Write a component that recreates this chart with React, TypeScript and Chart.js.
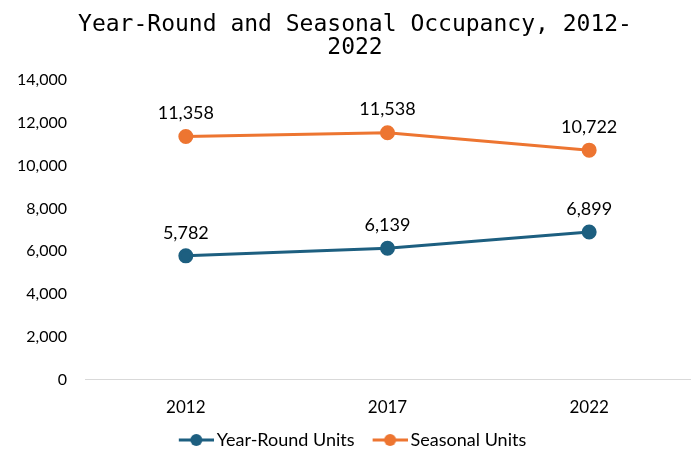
import React, { useEffect, useRef } from "react";
import { Chart, registerables } from "chart.js";

Chart.register(...registerables);

const categories = ["2012", "2017", "2022"];
const yearRoundUnits = [5782, 6139, 6899];
const seasonalUnits = [11358, 11538, 10722];
const titleLines = ["Year-Round and Seasonal Occupancy, 2012-", "2022"];
const yMin = 0;
const yMax = 14000;
const yStep = 2000;

const BLUE = "#1d5f80";
const ORANGE = "#ed7531";
const FONT = "Lato, 'Open Sans', sans-serif";

// legend marker: transparent lead-in, then a line with a dot
function makeIcon(color: string) {
  const c = document.createElement("canvas");
  c.width = 56;
  c.height = 14;
  const ctx = c.getContext("2d")!;
  ctx.strokeStyle = color;
  ctx.lineWidth = 3;
  ctx.beginPath();
  ctx.moveTo(21, 7);
  ctx.lineTo(56, 7);
  ctx.stroke();
  ctx.fillStyle = color;
  ctx.beginPath();
  ctx.arc(38.5, 7, 6, 0, Math.PI * 2);
  ctx.fill();
  return c;
}

const dataLabels = {
  id: "dataLabels",
  afterDatasetsDraw(chart: any) {
    const ctx = chart.ctx;
    ctx.save();
    ctx.font = `18px ${FONT}`;
    ctx.fillStyle = "#000";
    ctx.textAlign = "center";
    ctx.textBaseline = "middle";
    chart.data.datasets.forEach((ds: any, i: number) => {
      const meta = chart.getDatasetMeta(i);
      meta.data.forEach((pt: any, j: number) => {
        ctx.fillText(Number(ds.data[j]).toLocaleString("en-US"), pt.x, pt.y - 23);
      });
    });
    ctx.restore();
  },
};

const titleShift = {
  id: "titleShift",
  afterLayout(chart: any) {
    if (chart.titleBlock) chart.titleBlock.left += 20;
  },
};

export default function App() {
  const ref = useRef<HTMLCanvasElement>(null);
  useEffect(() => {
    document.body.style.margin = "0";
    const chart = new Chart(ref.current!, {
      type: "line",
      data: {
        labels: categories,
        datasets: [
          {
            label: "Year-Round Units",
            data: yearRoundUnits,
            borderColor: BLUE,
            backgroundColor: BLUE,
            borderWidth: 3,
            pointRadius: 6,
            pointStyle: "circle",
          },
          {
            label: "Seasonal Units",
            data: seasonalUnits,
            borderColor: ORANGE,
            backgroundColor: ORANGE,
            borderWidth: 3,
            pointRadius: 6,
            pointStyle: "circle",
          },
        ],
      },
      options: {
        animation: false,
        responsive: false,
        layout: { padding: { left: 0, right: 10, top: 0, bottom: -8 } },
        plugins: {
          title: {
            display: true,
            text: titleLines,
            color: "#000",
            font: { family: "'DejaVu Sans Mono', monospace", size: 23, weight: "normal", lineHeight: 1.0 },
            padding: { top: 14, bottom: 20 },
          },
          legend: {
            position: "bottom",
            labels: {
              usePointStyle: true,
              pointStyleWidth: 44,
              color: "#000",
              font: { family: FONT, size: 18 },
              padding: 3,
              generateLabels(chart: any) {
                return chart.data.datasets.map((ds: any, i: number) => ({
                  text: ds.label,
                  fillStyle: ds.borderColor,
                  strokeStyle: ds.borderColor,
                  lineWidth: 0,
                  pointStyle: makeIcon(ds.borderColor),
                  datasetIndex: i,
                  hidden: false,
                  fontColor: "#000",
                }));
              },
            },
          },
          tooltip: { enabled: false },
        },
        scales: {
          x: {
            offset: true,
            grid: { display: false },
            border: { display: true, color: "#d9d9d9", width: 1 },
            ticks: { color: "#000", font: { family: FONT, size: 17 }, padding: 10 },
          },
          y: {
            min: yMin,
            max: yMax,
            grid: { display: false, drawTicks: false },
            border: { display: false },
            ticks: {
              stepSize: yStep,
              color: "#000",
              font: { family: FONT, size: 16 },
              padding: 18,
              callback: (v: any) => Number(v).toLocaleString("en-US"),
            },
            afterFit(scale: any) {
              scale.width = 85;
            },
          },
        },
      },
      plugins: [dataLabels, titleShift],
    });
    return () => chart.destroy();
  }, []);
  return <canvas ref={ref} width={700} height={451} style={{ display: "block" }} />;
}
